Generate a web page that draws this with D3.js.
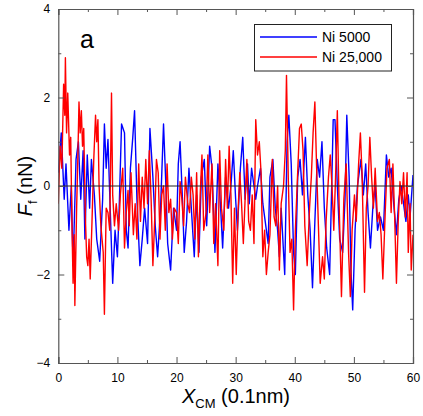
<!DOCTYPE html>
<html><head><meta charset="utf-8">
<script src="https://cdn.jsdelivr.net/npm/d3@7"></script>
<style>body{margin:0;background:#fff}svg{display:block;font-family:"Liberation Sans",Arial,sans-serif}</style>
</head><body><svg id="c" width="423" height="416"></svg>
<script>
const seriesNames = ["Ni 5000", "Ni 25,000"];
const seriesColors = ["#0000ff", "#ff0000"];
const xTicks = [0, 10, 20, 30, 40, 50, 60];
const yTicks = [-4, -2, 0, 2, 4];
const blueX = [0,0.5,1.0,1.3,1.8,2.2,2.5,3.0,3.4,3.8,4.2,4.5,4.9,5.3,5.6,6.1,6.5,7.0,7.5,7.8,8.1,8.4,8.8,9.2,9.6,10.0,10.3,10.7,11.2,11.5,11.8,12.2,12.6,12.9,13.3,13.8,14.2,14.6,15.1,15.5,16.0,16.4,16.8,17.3,17.8,18.2,18.5,19.0,19.5,20.0,20.3,20.6,21.0,21.3,21.7,22.1,22.5,23.0,23.4,23.8,24.2,24.7,25.1,25.6,26.0,26.5,27.0,27.5,27.8,28.3,28.8,29.2,29.6,30.0,30.3,30.8,31.2,31.6,32.0,32.3,32.7,33.1,33.4,33.7,34.2,34.6,35.0,35.5,35.8,36.3,36.7,37.1,37.4,37.7,38.3,38.7,39.0,39.4,39.8,40.1,40.5,40.9,41.3,41.8,42.2,42.6,43.0,43.4,43.8,44.2,44.6,45.0,45.4,45.9,46.3,46.5,46.8,47.2,47.6,48.1,48.5,48.8,49.2,49.5,49.8,50.2,50.6,51.2,51.6,52.0,52.4,52.8,53.2,53.6,54.0,54.5,55.0,55.5,55.9,56.3,56.8,57.2,57.6,58.0,58.4,58.8,59.2,59.5,60.0];
const blueY = [0.3,1.2,-0.3,0.5,-1.0,0.0,-1.8,0.6,1.0,-0.3,0.8,-1.2,0.7,-0.5,0.6,-0.2,-1.2,-1.7,-0.3,1.4,0.4,1.05,-0.6,-2.2,-1.0,-1.6,-0.5,1.4,1.2,-1.0,-1.4,0.4,1.1,1.7,-0.3,-1.8,-1.2,-0.5,-1.3,1.3,0.2,-0.9,-1.6,-0.5,1.4,0.0,-1.3,-1.9,-0.5,-1.0,0.5,1.0,-0.3,-1.5,-0.8,0.4,-0.5,-1.6,-0.2,-1.5,0.2,0.6,-0.9,0.9,0.4,-1.5,0.5,-0.6,-1.4,0.2,-0.5,0.0,0.8,-0.3,-1.0,0.4,1.1,-0.3,0.5,-0.4,0.4,0.0,-0.3,0.0,0.4,-0.4,-0.8,-1.3,0.2,0.6,-0.5,-1.0,-1.6,-0.5,-2.0,1.0,1.6,0.5,-1.5,-2.0,0.2,0.6,-0.2,1.1,-0.2,-1.0,-2.3,-0.8,0.6,0.2,1.0,-0.5,-1.4,-2.0,0.3,1.5,1.5,0.0,-1.2,-1.5,-0.3,1.6,0.2,-1.9,-2.8,-1.0,0.0,0.6,-0.2,0.5,-0.6,-1.4,-0.5,0.0,-1.0,-0.7,-1.0,0.7,0.2,0.4,-0.5,-1.1,-0.3,0.0,-0.4,-0.8,-0.2,-0.7,0.25];
const redX = [0.0,0.3,0.6,0.9,1.1,1.2,1.4,1.6,1.9,2.1,2.3,2.5,2.7,2.8,3.1,3.3,3.5,3.7,3.9,4.1,4.3,4.6,4.8,5.0,5.2,5.4,5.7,6.0,6.3,6.5,6.7,6.9,7.2,7.6,7.8,8.1,8.4,8.7,9.0,9.2,9.5,9.8,10.2,10.5,10.9,11.2,11.5,11.8,12.0,12.3,12.7,13.0,13.3,13.6,13.9,14.2,14.5,14.8,15.1,15.4,15.7,16.0,16.3,16.6,16.9,17.2,17.5,17.8,18.1,18.4,18.7,19.0,19.3,19.6,20.0,20.3,20.6,20.9,21.2,21.5,21.9,22.2,22.5,22.8,23.1,23.4,23.7,24.0,24.3,24.6,25.0,25.3,25.6,26.0,26.3,26.6,27.0,27.3,27.6,28.0,28.3,28.6,28.9,29.2,29.5,29.8,30.1,30.4,30.7,31.0,31.3,31.6,31.9,32.2,32.5,32.8,33.1,33.4,33.7,34.0,34.3,34.6,34.9,35.2,35.5,35.8,36.2,36.5,36.8,37.1,37.4,37.7,38.1,38.4,38.6,38.9,39.2,39.5,39.8,40.1,40.4,40.8,41.1,41.4,41.7,42.1,42.5,42.8,43.1,43.4,43.7,44.0,44.3,44.7,45.0,45.3,45.7,46.0,46.3,46.6,46.9,47.2,47.5,47.9,48.3,48.7,49.1,49.4,49.7,50.1,50.4,50.8,51.1,51.4,51.8,52.1,52.4,52.7,53.0,53.3,53.6,54.0,54.3,54.6,54.9,55.3,55.6,56.0,56.3,56.6,56.9,57.2,57.5,57.8,58.1,58.4,58.7,59.0,59.2,59.5,59.7,60.0];
const redY = [-0.4,0.9,0.4,2.3,1.6,2.9,1.2,2.1,0.7,1.1,-0.8,-2.2,-1.1,-2.7,-0.5,0.6,1.9,1.2,1.7,0.9,1.3,-0.8,-1.6,-1.8,-1.2,-2.1,-0.8,0.6,1.6,1.0,1.5,0.0,-0.9,-1.5,-2.9,-0.5,-0.6,-1.0,2.1,-0.2,-0.9,-0.4,-1.0,-0.2,0.4,-1.4,-0.6,-0.1,-0.9,0.3,-1.1,-0.4,-1.2,0.5,-0.8,0.2,-0.5,0.6,-0.4,0.8,-0.3,-1.8,-0.8,0.6,0.3,-1.2,-0.2,0.0,-1.0,0.5,-0.6,-0.3,-1.2,-0.5,-0.6,-1.3,0.1,-0.3,-0.9,0.2,-0.4,-0.6,0.2,-0.2,-1.2,0.3,-1.6,-0.2,0.7,-1.0,-0.6,0.7,-0.6,0.5,-1.3,-0.4,-1.8,0.8,-0.5,-1.0,0.6,-0.5,0.9,-0.2,-2.2,-0.5,-2.0,-0.6,0.3,-0.4,-1.3,-0.3,0.6,-0.8,-1.0,-0.2,-1.3,1.5,0.7,1.0,0.3,-1.6,-1.0,-2.0,-1.5,-1.1,0.6,-0.7,-0.9,0.0,-1.9,-0.4,0.0,0.8,2.5,0.2,-1.5,-1.2,-2.8,-1.0,0.0,1.3,1.4,0.8,-0.9,-1.8,-0.5,0.2,1.2,1.9,0.4,-0.9,-2.2,-1.6,-2.1,-0.8,0.2,0.7,0.0,-1.0,0.2,1.7,-0.4,-2.5,-0.3,0.5,-1.5,-2.5,-1.0,-0.2,-0.8,0.5,1.2,0.2,-2.4,-0.5,0.0,1.1,0.2,-0.5,0.4,-0.8,-0.6,-1.1,-2.1,-0.6,0.4,0.6,-0.6,0.5,-0.7,-2.2,-0.8,0.1,-0.4,0.3,-0.7,0.3,-1.5,-0.4,-1.9,-1.1];

const svg = d3.select("#c");
const L = 58.3, R = 413, T = 9, B = 363;
const x = d3.scaleLinear().domain([0, 60]).range([L, R]);
const y = d3.scaleLinear().domain([-4, 4]).range([B, T]);

svg.append("clipPath").attr("id","cp").append("rect")
  .attr("x", L).attr("y", T).attr("width", R-L).attr("height", B-T);

const lineGen = d3.line().x(d => x(d[0])).y(d => y(d[1]));
const seriesData = [blueX.map((v,i)=>[v, blueY[i]]), redX.map((v,i)=>[v, redY[i]])];
seriesData.forEach((d,i) => {
  svg.append("path").datum(d).attr("d", lineGen).attr("fill","none")
    .attr("stroke", seriesColors[i]).attr("stroke-width", 1.4)
    .attr("stroke-linejoin","round").attr("clip-path","url(#cp)");
});

// zero line on top
svg.append("line").attr("x1", x(0)).attr("x2", x(60)).attr("y1", y(0)).attr("y2", y(0))
  .attr("stroke", "#222").attr("stroke-width", 1);

const axC = "#555";
const xMinor = d3.range(5, 60, 10);
const yMinor = d3.range(-3, 4, 2);
svg.append("g").attr("transform", `translate(0,${B})`)
  .call(d3.axisBottom(x).tickValues(xTicks).tickSize(-6).tickPadding(10));
svg.append("g").attr("transform", `translate(0,${T})`)
  .call(d3.axisTop(x).tickValues(xTicks).tickSize(-6).tickFormat(""));
svg.append("g").attr("transform", `translate(${L},0)`)
  .call(d3.axisLeft(y).tickValues(yTicks).tickSize(-6).tickPadding(8));
svg.append("g").attr("transform", `translate(${R},0)`)
  .call(d3.axisRight(y).tickValues(yTicks).tickSize(-6).tickFormat(""));
svg.append("g").attr("transform", `translate(0,${B})`).call(d3.axisBottom(x).tickValues(xMinor).tickSize(-3).tickFormat("")).select(".domain").remove();
svg.append("g").attr("transform", `translate(0,${T})`).call(d3.axisTop(x).tickValues(xMinor).tickSize(-3).tickFormat("")).select(".domain").remove();
svg.append("g").attr("transform", `translate(${L},0)`).call(d3.axisLeft(y).tickValues(yMinor).tickSize(-3).tickFormat("")).select(".domain").remove();
svg.append("g").attr("transform", `translate(${R},0)`).call(d3.axisRight(y).tickValues(yMinor).tickSize(-3).tickFormat("")).select(".domain").remove();
svg.selectAll(".domain").attr("stroke", axC).attr("stroke-width", 1.2);
svg.selectAll(".tick line").attr("stroke", axC).attr("stroke-width", 1);
svg.selectAll(".tick text").attr("font-size", 12).attr("fill", "#000")
  .attr("font-family", '"Liberation Sans",Arial,sans-serif');

const xt = svg.append("text").attr("x", 236).attr("y", 403).attr("text-anchor","middle")
  .attr("font-size", 20).attr("fill","#000");
xt.append("tspan").attr("font-style","italic").text("X");
xt.append("tspan").attr("font-size", 13).attr("dy", 5).text("CM");
xt.append("tspan").attr("dy", -5).text(" (0.1nm)");

const yt = svg.append("text").attr("transform", "translate(32,186) rotate(-90)")
  .attr("text-anchor","middle").attr("font-size", 20).attr("fill","#000");
yt.append("tspan").attr("font-style","italic").text("F");
yt.append("tspan").attr("font-size", 13).attr("dy", 5).text("f");
yt.append("tspan").attr("dy", -5).text(" (nN)");

svg.append("text").attr("x", 80).attr("y", 48).attr("font-size", 25).attr("fill","#000").text("a");

const lg = svg.append("g");
lg.append("rect").attr("x", 254.5).attr("y", 24.5).attr("width", 137).attr("height", 46.5)
  .attr("fill","#fff").attr("stroke","#222").attr("stroke-width", 1);
seriesNames.forEach((n,i) => {
  const yy = 37 + i*20;
  lg.append("line").attr("x1", 260).attr("x2", 317).attr("y1", yy).attr("y2", yy)
    .attr("stroke", seriesColors[i]).attr("stroke-width", 1.3);
  lg.append("text").attr("x", 322).attr("y", yy + 5).attr("font-size", 14).attr("fill","#000").text(n);
});
</script></body></html>
